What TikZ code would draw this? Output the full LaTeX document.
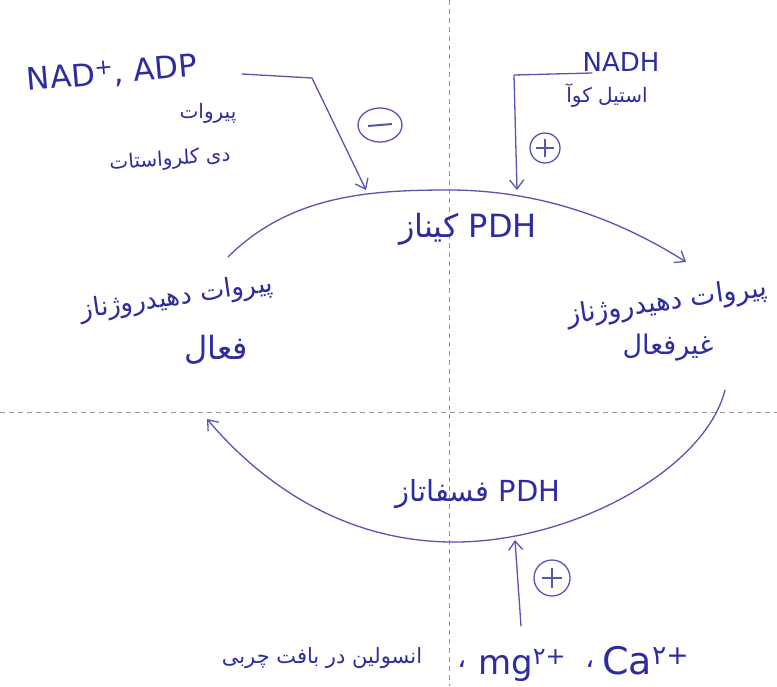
\documentclass[tikz,border=0pt]{standalone}
\usepackage{fontspec}
\setmainfont{DejaVu Sans}
\newfontfamily\fa[Script=Arabic]{DejaVu Sans}
\TeXXeTstate=1
\usetikzlibrary{arrows.meta}
\definecolor{ink}{RGB}{45,45,160}
\definecolor{pen}{RGB}{85,85,180}
\definecolor{guide}{RGB}{150,150,150}
\tikzset{
  guideline/.style={guide, dashed, dash pattern=on 5pt off 4pt, line width=0.7pt},
  penline/.style={pen, line width=1.3pt, line cap=round, line join=round},
  penarrow/.style={penline, -{Straight Barb[length=9pt,width=14pt,line width=1.3pt]}},
  lat/.style={ink, inner sep=0pt, font=\fontsize{26}{28}\selectfont},
  per/.style={ink, inner sep=0pt, font=\fa\fontsize{20}{24}\selectfont},
  fs/.style={font=\fa\fontsize{#1}{#1}\selectfont},
  ls/.style={font=\fontsize{#1}{#1}\selectfont},
  sign/.style={pen, line width=1.3pt}
}
\begin{document}
\begin{tikzpicture}[x=1pt,y=-1pt]
\useasboundingbox (0,0) rectangle (777,686);
\fill[white] (0,0) rectangle (777,686);

% guide lines
\draw[guideline] (449,0) -- (449,686);
\draw[guideline] (0,412) -- (777,412);

% cycle arcs
\coordinate (a1) at (228,257);
\coordinate (a2) at (449,190);
\coordinate (a3) at (686,262);
\draw[penarrow] (a1) .. controls (290,195) and (370,190) .. (a2)
                     .. controls (540,190) and (620,220) .. (a3);
\coordinate (c1) at (725,390);
\coordinate (c2) at (449,542);
\coordinate (c3) at (207,419);
\draw[penarrow] (c1) .. controls (705,470) and (570,544) .. (c2)
                     .. controls (330,540) and (250,470) .. (c3);

% texts
\node[lat, ls=31, rotate=5] (nad) at (112,74) {NAD\textsuperscript{+}, ADP};
\node[per] (pyr) at (208,113) {\beginR پیروات\endR};
\node[per, rotate=4] (dca) at (170,160) {\beginR دی کلرواستات\endR};
\node[lat] (nadh) at (621,62) {NADH};
\node[per] (acoa) at (607,96) {\beginR استیل کوآ\endR};
\node[per, fs=32] (kin) at (468,229) {{\fa\beginR کیناز\endR} {\fontspec{DejaVu Sans}PDH}};
\node[per, fs=26, rotate=8] (act1) at (177,298) {\beginR پیروات دهیدروژناز\endR};
\node[per, fs=32] (act2) at (216,350) {\beginR فعال\endR};
\node[per, fs=27, rotate=8] (ina1) at (667,303) {\beginR پیروات دهیدروژناز\endR};
\node[per, fs=27] (ina2) at (668,348) {\beginR غیرفعال\endR};
\node[per, fs=29] (pho) at (478,494) {{\fa\beginR فسفاتاز\endR} {\fontspec{DejaVu Sans}PDH}};
\node[per, fs=21] (ins) at (322,658) {\beginR انسولین در بافت چربی\endR};
\node[per, fs=28] (cm1) at (462,664) {\beginR ،\endR};
\node[lat, ls=34, anchor=base west] (mg) at (478,674) {mg\textsuperscript{{\fa ۲}+}};
\node[per, fs=28] (cm2) at (590,664) {\beginR ،\endR};
\node[lat, ls=38, anchor=base west] (ca) at (602,674) {Ca\textsuperscript{{\fa ۲}+}};

% regulator arrows
\coordinate (m1) at (242,74);
\coordinate (m2) at (312,78);
\coordinate (m3) at (366,190);
\draw[penarrow] (m1) -- (m2) -- (m3);
\coordinate (p1) at (592,73);
\coordinate (p2) at (514,75);
\coordinate (p3) at (517,190);
\draw[penarrow] (p1) -- (p2) -- (p3);
\coordinate (b1) at (521,626);
\coordinate (b2) at (515,540);
\draw[penarrow] (b1) -- (b2);

% signs
\draw[sign] (380,125) ellipse [x radius=22, y radius=17];
\draw[sign, line width=2pt] (368,126) -- (392,124);
\draw[sign] (545,148) circle (15);
\draw[sign] (545,139) -- (545,157) (536,148) -- (554,148);
\draw[sign] (552,578) circle (18);
\draw[sign, line width=1.6pt] (552,568) -- (552,588) (542,578) -- (562,578);
\end{tikzpicture}
\end{document}
